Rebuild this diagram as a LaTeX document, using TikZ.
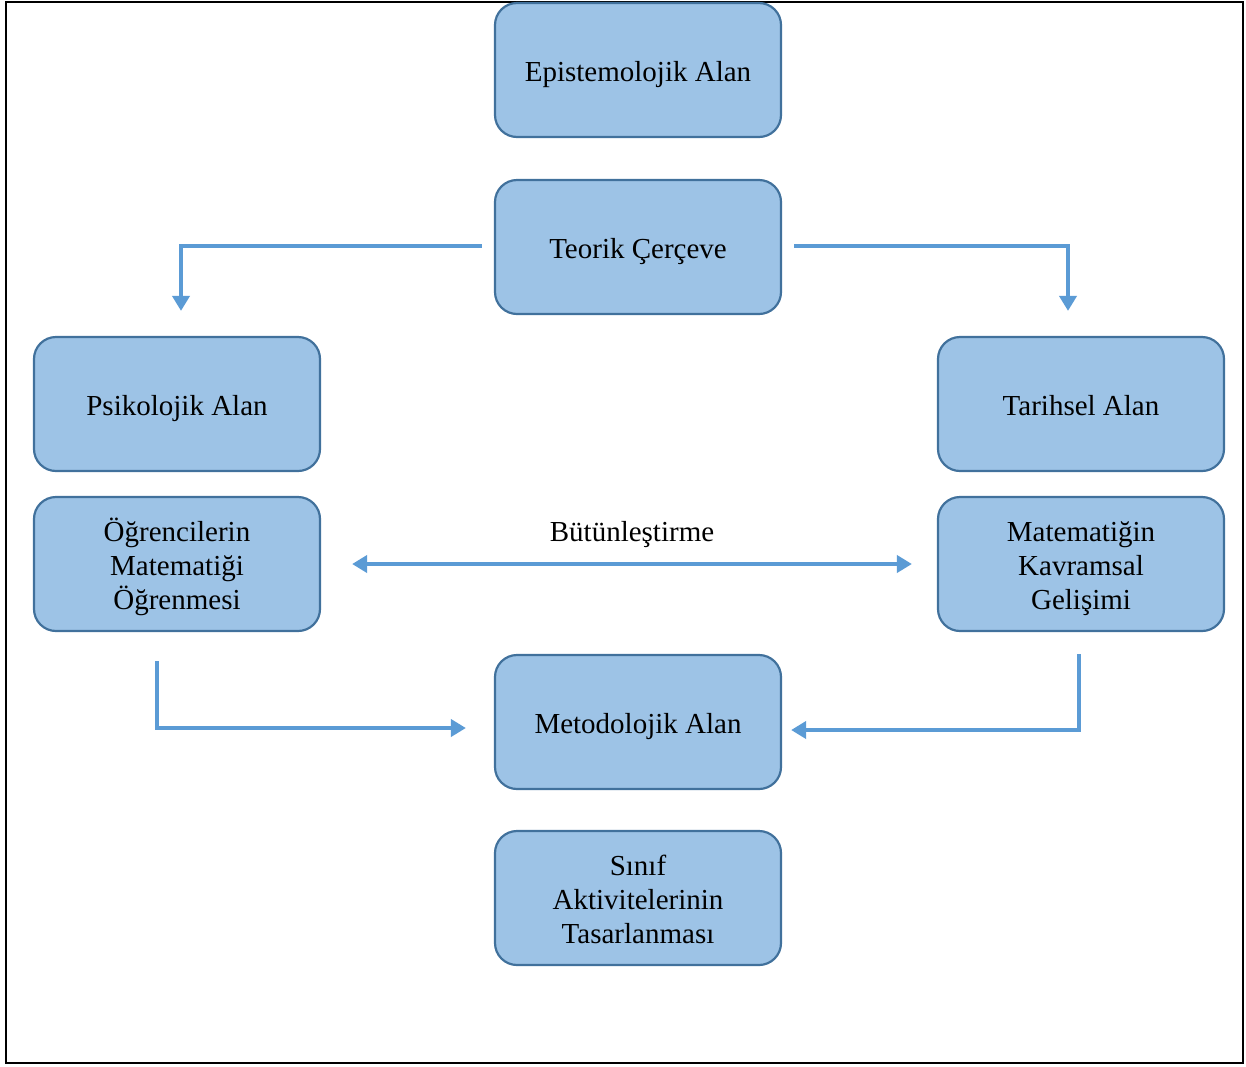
\documentclass[tikz,border=0pt]{standalone}
\usepackage{fontspec}
\setmainfont{Liberation Serif}
\usetikzlibrary{arrows.meta}

\definecolor{boxfill}{HTML}{9DC3E6}
\definecolor{boxline}{HTML}{41719C}
\definecolor{linkblue}{HTML}{5B9BD5}

\begin{document}
\begin{tikzpicture}[x = 1pt, y = -1pt,
        box/.style = {draw = boxline, fill = boxfill, line width = 2.2pt, rounded corners = 22pt,
                      minimum width = 286pt, minimum height = 134pt, inner sep = 0pt,
                      text height = 29pt, text depth = 7pt,
                      align = center, font = \fontsize{29}{34}\selectfont},
        threeline/.style = {text height = 97pt},
        link/.style = {draw = linkblue, line width = 4pt, -{Triangle[length = 15pt, width = 17pt]}}]
            \useasboundingbox (0,0) rectangle (1246,1066);
            % outer frame
            \draw[line width = 2pt] (6,2) rectangle (1243,1063);

            % middle column
            \node[box] (epist) at (638, 70) {Epistemolojik Alan};
            \node[box] (teorik) at (638, 247) {Teorik Çerçeve};
            \node[box] (metod) at (638, 722) {Metodolojik Alan};
            \node[box, threeline] (sinif) at (638, 898) {Sınıf\\Aktivitelerinin\\Tasarlanması};

            % left and right columns
            \node[box] (psiko) at (177, 404) {Psikolojik Alan};
            \node[box, threeline] (ogrenci) at (177, 564) {Öğrencilerin\\Matematiği\\Öğrenmesi};
            \node[box] (tarih) at (1081, 404) {Tarihsel Alan};
            \node[box, threeline] (kavram) at (1081, 564) {Matematiğin\\Kavramsal\\Gelişimi};

            \draw[link] ([xshift = -12pt, yshift = 1pt]teorik.west) -| ([xshift = 4pt, yshift = 25pt]psiko.north);
            \draw[link] ([xshift = 12pt, yshift = 1pt]teorik.east) -| ([xshift = -13pt, yshift = 25pt]tarih.north);

            \draw[link, {Triangle[length = 15pt, width = 17pt]}-{Triangle[length = 15pt, width = 17pt]}]
                ([xshift = 31pt]ogrenci.east) -- node[above = 11pt, font = \fontsize{29}{34}\selectfont] {Bütünleştirme}
                ([xshift = -25pt]kavram.west);

            \draw[link] ([xshift = -20pt, yshift = -29pt]ogrenci.south) |- ([xshift = -28pt, yshift = -6pt]metod.west);
            \draw[link] ([xshift = -2pt, yshift = -22pt]kavram.south) |- ([xshift = 9pt, yshift = -8pt]metod.east);
        \end{tikzpicture}
\end{document}
